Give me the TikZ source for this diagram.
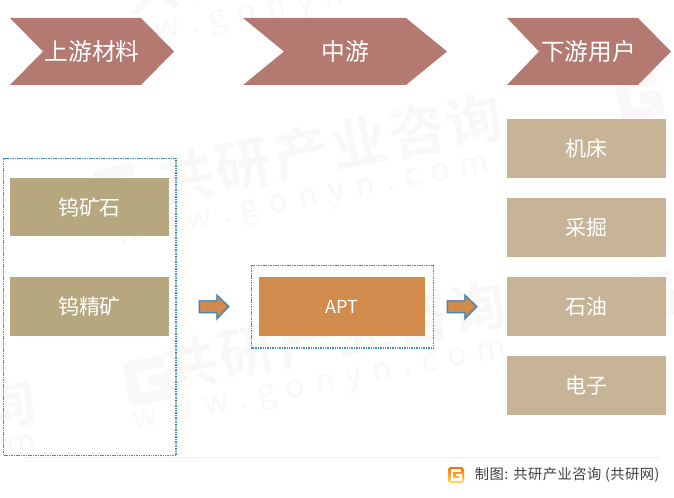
\documentclass[tikz,border=0pt]{standalone}
\usepackage{fontspec}
\newfontfamily\cjk{Noto Sans CJK SC}
\newfontfamily\cjkfoot[LetterSpace=3.5]{Noto Sans CJK SC}
\newfontfamily\cjkmark[LetterSpace=5]{Noto Sans CJK SC Bold}
\newfontfamily\cjkurl[LetterSpace=34]{Noto Sans CJK SC}
\definecolor{chevroncolor}{RGB}{180,122,114}
\definecolor{orecolor}{RGB}{183,167,127}
\definecolor{usercolor}{RGB}{199,179,150}
\definecolor{aptcolor}{RGB}{209,139,77}
\definecolor{framecolor}{RGB}{64,140,210}
\definecolor{arrowcolor}{RGB}{79,129,178}
\definecolor{markcolor}{RGB}{248,248,248}
\newcommand{\marklogo}[2]{\draw [markcolor,line width=9pt,line join=round,shift={(#1,#2)},rotate=-11] (19,-16) -- (-16,-16) -- (-16,17) -- (15,17) -- (15,2) -- (0,2);}
\tikzset{every picture/.style={line width=0.75pt}}
\tikzset{
	chevronshape/.style={draw opacity=0,fill=chevroncolor},
	blockarrow/.style={draw=arrowcolor,fill=aptcolor,line width=1pt,preaction={draw=arrowcolor!40,line width=1.8pt}},
	dotframe/.style={draw=framecolor,line width=0.8pt,dash pattern=on 1.1pt off 0.7pt},
	headtext/.style={text=white,font=\cjk\fontsize{17.8}{20}\selectfont},
	boxtext/.style={text=white,font=\cjk\fontsize{15.7}{18}\selectfont,inner sep=0pt,minimum height=44pt},
	orebox/.style={boxtext,fill=orecolor,minimum width=119.25pt},
	userbox/.style={boxtext,fill=usercolor,minimum width=119.25pt},
	markname/.style={text=markcolor,rotate=11,font=\cjkmark\fontsize{42}{44}\selectfont},
	markurl/.style={text=markcolor,rotate=11,font=\cjkurl\fontsize{24}{28}\selectfont}
}

\begin{document}
\begin{tikzpicture}[x=0.75pt,y=0.75pt,yscale=-1,xscale=1]
	\useasboundingbox (0,0) rectangle (674,498);
	\clip (0,0) rectangle (674,498);

	% Watermark
	\node [markname] (markone) at (330,148) {共研产业咨询};
	\node [markurl] (urlone) at (303,203) {www.gonyn.com};
	\node [markname] (marktwo) at (334,335) {共研产业咨询};
	\node [markurl] (urltwo) at (320,388) {www.gonyn.com};
	\node [markname] (markthree) at (296,-42) {共研产业咨询};
	\node [markurl] (urlthree) at (271,13) {www.gonyn.com};
	\node [markname] (markfour) at (-136,431) {共研产业咨询};
	\node [markurl] (urlfour) at (-150,482) {www.gonyn.com};
	\marklogo{118}{188}
	\marklogo{148}{380}
	\marklogo{640}{97}
	\marklogo{655}{295}

	%Shape: Chevron
	\draw [chevronshape] (10,18) -- (141,18) -- (174,51.5) -- (141,85) -- (10,85) -- (43,51.5) -- cycle ;
	%Shape: Chevron
	\draw [chevronshape] (243,18) -- (406,18) -- (447,51.5) -- (406,85) -- (243,85) -- (284,51.5) -- cycle ;
	%Shape: Chevron
	\draw [chevronshape] (507,18) -- (638,18) -- (671,51.5) -- (638,85) -- (507,85) -- (539,51.5) -- cycle ;

	%Shape: Rectangle
	\draw [dotframe] (3.5,158.5) rectangle (176,455.5);
	%Shape: Rectangle
	\draw [dotframe] (251.5,265.5) rectangle (433.5,348);

	%Right Arrow
	\draw [blockarrow] (199.5,301) -- (217,301) -- (217,295.5) -- (228.5,306.5) -- (217,318.5) -- (217,312.5) -- (199.5,312.5) -- cycle ;
	%Right Arrow
	\draw [blockarrow] (447.5,301) -- (465,301) -- (465,295.5) -- (476.5,306.5) -- (465,318.5) -- (465,312.5) -- (447.5,312.5) -- cycle ;

	% Text Node
	\node [headtext] (upstream) at (92,51.5) {上游材料};
	% Text Node
	\node [headtext] (midstream) at (345.5,51.5) {中游};
	% Text Node
	\node [headtext] (downstream) at (588.5,51.5) {下游用户};

	% Box Node
	\node [orebox] (concentrate) at (89.5,207) {钨矿石};
	\node [orebox] (tungsten) at (89.5,306.5) {钨精矿};
	\node [boxtext,fill=aptcolor,minimum width=124.5pt,font=\cjk\fontsize{13.5}{15}\selectfont] (apt) at (342,306.5) {APT};
	\node [userbox] (lathe) at (586.5,148.5) {机床};
	\node [userbox] (mining) at (586.5,227.5) {采掘};
	\node [userbox] (oil) at (586.5,306.5) {石油};
	\node [userbox] (electron) at (586.5,385.5) {电子};

	% Footer
	\draw [draw=black!7,line width=1pt] (25,457.5) -- (659,457.5);
	\draw [draw opacity=0,top color=orange!85!red,bottom color=orange!40!yellow!60,rounded corners=2pt] (448,467) rectangle (464,483);
	\draw [white,line width=1.8pt] (461,470.5) -- (452,470.5) -- (452,479.5) -- (460.5,479.5) -- (460.5,475) -- (456,475);
	\node [text=black!75,font=\cjkfoot\fontsize{10.7}{12}\selectfont,anchor=east,inner sep=0pt] (source) at (660,474.5) {制图: 共研产业咨询 (共研网)};
\end{tikzpicture}
\end{document}
